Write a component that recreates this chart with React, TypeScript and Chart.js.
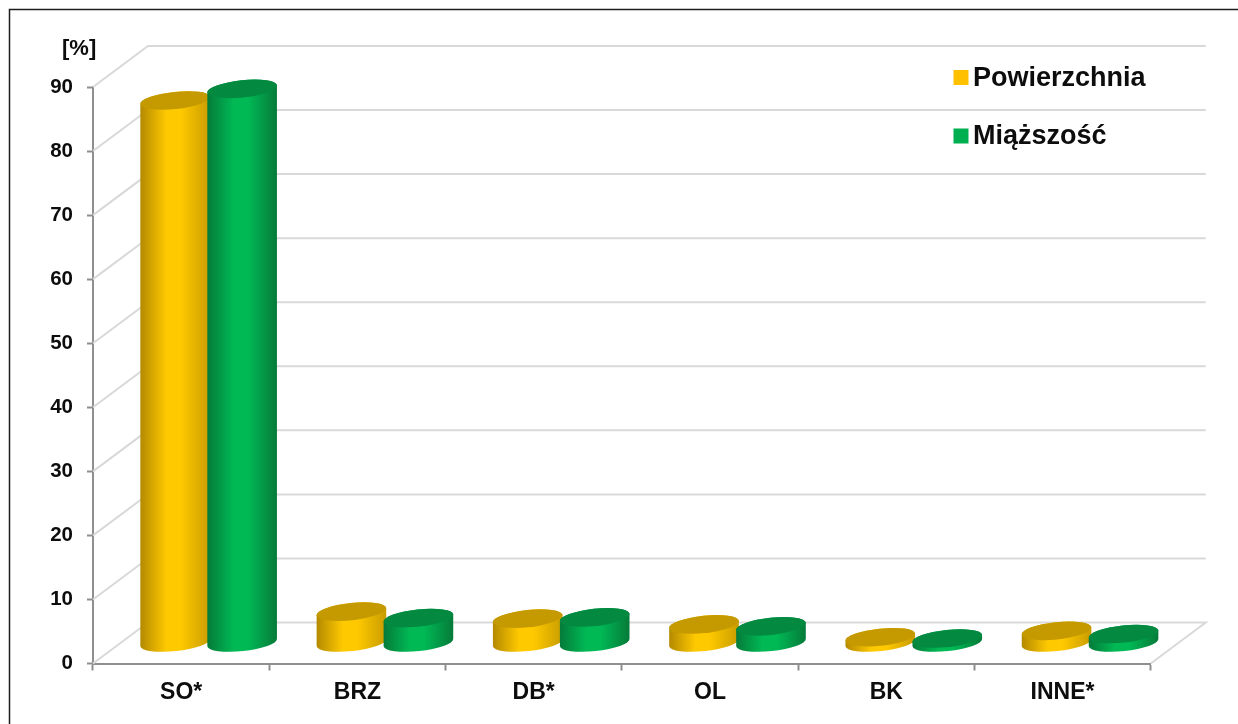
import React, { useEffect, useRef } from "react";
import { Chart, registerables } from "chart.js";

Chart.register(...registerables);

const categories = ["SO*", "BRZ", "DB*", "OL", "BK", "INNE*"];
const powierzchnia = [84.7, 4.9, 3.8, 2.9, 0.9, 1.9];
const miazszosc = [86.5, 3.9, 4.0, 2.6, 0.7, 1.4];
const seriesNames = ["Powierzchnia", "Miąższość"];
const unitLabel = "[%]";

const FONT = '"Liberation Sans", Arial, sans-serif';
const AXIS = "#8f8f8f";
const WALL = "#d9d9d9";
const DEPTH_X = 55;
const DEPTH_Y = 41;
const FLOOR_Y = 20.5;
const TILT = (-6 * Math.PI) / 180;
const RY = 8.6;

const palettes = [
  { edgeL: "#b38900", mid: "#ffc900", edgeR: "#c89c00", top: "#c49a00", key: "#ffc000" },
  { edgeL: "#057a39", mid: "#00b955", edgeR: "#067a39", top: "#038a40", key: "#00b050" },
];

function drawCylinder(ctx: CanvasRenderingContext2D, el: any, p: (typeof palettes)[0]) {
  const cx = el.x + DEPTH_X / 2;
  const top = el.y - FLOOR_Y;
  const base = el.base - FLOOR_Y;
  const rx = el.width / 2;
  const dx = rx * Math.cos(TILT);
  const dy = rx * Math.sin(TILT);

  const g = ctx.createLinearGradient(cx - rx, 0, cx + rx, 0);
  g.addColorStop(0, p.edgeL);
  g.addColorStop(0.38, p.mid);
  g.addColorStop(0.58, p.mid);
  g.addColorStop(1, p.edgeR);

  ctx.beginPath();
  ctx.moveTo(cx - dx, top - dy);
  ctx.lineTo(cx - dx, base - dy);
  ctx.ellipse(cx, base, rx, RY, TILT, Math.PI, 0, true);
  ctx.lineTo(cx + dx, top + dy);
  ctx.ellipse(cx, top, rx, RY, TILT, 0, Math.PI, true);
  ctx.closePath();
  ctx.fillStyle = g;
  ctx.fill();

  ctx.beginPath();
  ctx.ellipse(cx, top, rx, RY, TILT, 0, Math.PI * 2);
  ctx.fillStyle = p.top;
  ctx.fill();
}

const scenePlugin = {
  id: "scene",
  beforeDraw(chart: any) {
    const ctx = chart.ctx;
    ctx.save();
    ctx.fillStyle = "#fff";
    ctx.fillRect(0, 0, chart.width, chart.height);
    ctx.strokeStyle = "#1c1c1c";
    ctx.lineWidth = 1.5;
    ctx.beginPath();
    ctx.moveTo(9.5, chart.height);
    ctx.lineTo(9.5, 9.5);
    ctx.lineTo(chart.width, 9.5);
    ctx.stroke();
    ctx.restore();
  },
  beforeDatasetsDraw(chart: any) {
    const ctx = chart.ctx;
    const { left, right } = chart.chartArea;
    const y = chart.scales.y;
    ctx.save();
    ctx.strokeStyle = WALL;
    ctx.lineWidth = 2;
    y.ticks.forEach((t: any) => {
      const py = y.getPixelForValue(t.value);
      ctx.beginPath();
      ctx.moveTo(left, py);
      ctx.lineTo(left + DEPTH_X, py - DEPTH_Y);
      ctx.lineTo(right + DEPTH_X, py - DEPTH_Y);
      if (t.value === 0) ctx.lineTo(right, py);
      ctx.stroke();
    });
    chart.data.datasets.forEach((_: any, i: number) => {
      chart.getDatasetMeta(i).data.forEach((el: any) => drawCylinder(ctx, el, palettes[i]));
    });
    ctx.restore();
    return false;
  },
  afterDraw(chart: any) {
    const ctx = chart.ctx;
    ctx.save();
    ctx.textBaseline = "middle";
    ctx.textAlign = "left";
    ctx.fillStyle = "#0d0d0d";
    ctx.font = `bold 22px ${FONT}`;
    ctx.fillText(unitLabel, 62, 49);
    const rows = [77.5, 136];
    ctx.font = `bold 27px ${FONT}`;
    chart.data.datasets.forEach((d: any, i: number) => {
      ctx.fillStyle = palettes[i].key;
      ctx.fillRect(953.5, rows[i] - 7.5, 15, 15);
      ctx.fillStyle = "#0d0d0d";
      ctx.fillText(d.label, 973, rows[i] + 1);
    });
    ctx.restore();
  },
};

export default function App() {
  const ref = useRef<HTMLCanvasElement>(null);
  useEffect(() => {
    document.body.style.margin = "0";
    const chart = new Chart(ref.current!, {
      type: "bar",
      data: {
        labels: categories,
        datasets: [
          { label: seriesNames[0], data: powierzchnia, backgroundColor: palettes[0].key },
          { label: seriesNames[1], data: miazszosc, backgroundColor: palettes[1].key },
        ],
      },
      options: {
        animation: false,
        responsive: false,
        categoryPercentage: 0.76,
        barPercentage: 1.045,
        layout: { padding: { top: 87, right: 87.3, left: 0, bottom: 0 } },
        plugins: { legend: { display: false }, tooltip: { enabled: false }, title: { display: false } },
        scales: {
          x: {
            afterFit: (s: any) => { s.height = 60.5; },
            border: { color: AXIS, width: 2 },
            grid: { drawOnChartArea: false, drawTicks: true, tickLength: 7, tickColor: AXIS, tickWidth: 2 },
            ticks: { color: "#0d0d0d", font: { family: FONT, size: 23, weight: "bold" }, padding: 8, maxRotation: 0 },
          },
          y: {
            min: 0,
            max: 90,
            afterFit: (s: any) => { s.width = 93; },
            border: { color: AXIS, width: 2 },
            grid: { drawOnChartArea: false, drawTicks: true, tickLength: 6, tickColor: AXIS, tickWidth: 2 },
            ticks: { stepSize: 10, color: "#0d0d0d", font: { family: FONT, size: 20.5, weight: "bold" }, padding: 14 },
          },
        },
      },
      plugins: [scenePlugin],
    } as any);
    return () => chart.destroy();
  }, []);
  return <canvas ref={ref} width={1238} height={724} style={{ display: "block" }} />;
}
